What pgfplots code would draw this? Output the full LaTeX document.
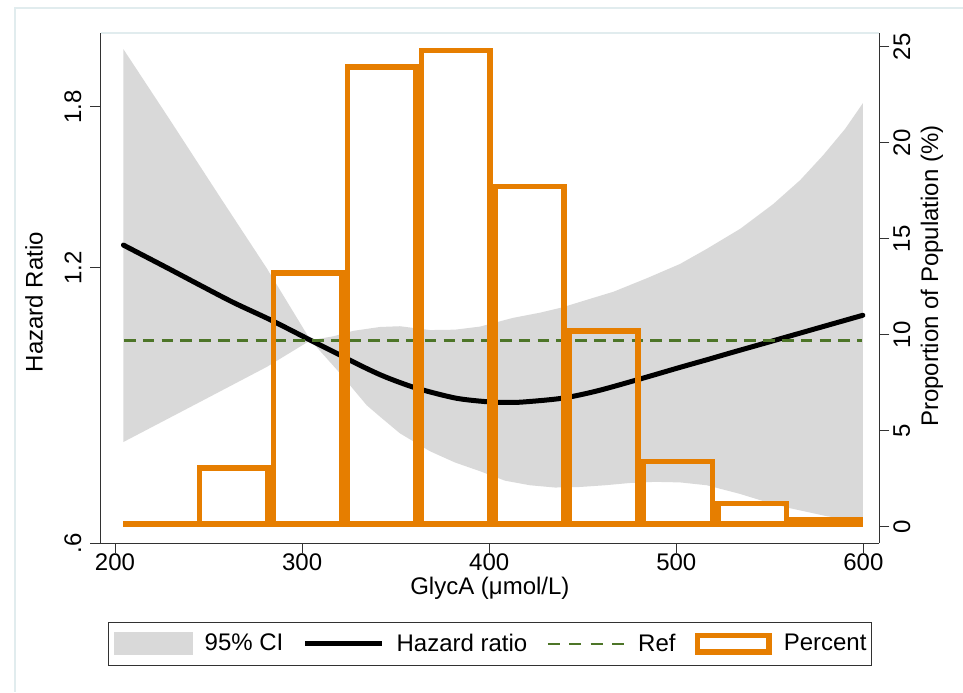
\documentclass[border=0pt]{standalone}
\usepackage{fontspec}
\setmainfont{Liberation Sans}
\usepackage{pgfplots}
\usepackage{pgfplotstable}
\pgfplotsset{compat=1.18}
\definecolor{cigray}{RGB}{217,217,217}
\definecolor{refgreen}{RGB}{77,117,40}
\definecolor{barorange}{RGB}{230,126,0}
\definecolor{axisgray}{RGB}{50,50,50}
\definecolor{framecol}{RGB}{225,236,238}

\pgfplotstableread{
x hr
204.5 1.271
227.6 1.201
245.4 1.149
263.2 1.100
283.4 1.052
304.5 1.000
317.0 0.971
330.0 0.941
341.6 0.917
352.3 0.899
363.0 0.884
382.6 0.864
400.4 0.856
410.0 0.855
418.3 0.856
438.8 0.864
457.5 0.880
480.6 0.907
502.0 0.934
516.3 0.952
530.0 0.970
548.3 0.994
573.3 1.028
599.7 1.065
}\hrtable

% 95% CI band: upper bound left to right, then lower bound right to left
\pgfplotstableread{
x hr
204.5 2.082
229.4 1.742
256.1 1.435
281.1 1.199
304.5 1.000
316.7 1.010
327.4 1.024
341.6 1.034
352.3 1.036
368.4 1.026
381.7 1.027
395.1 1.035
412.7 1.058
427.2 1.072
438.8 1.086
453.9 1.110
466.4 1.130
484.2 1.169
502.0 1.212
516.3 1.259
534.1 1.324
551.9 1.410
566.2 1.497
578.6 1.595
590.2 1.703
599.7 1.817
599.7 0.633
580.4 0.642
560.8 0.655
547.4 0.666
534.1 0.679
516.3 0.694
502.0 0.699
488.6 0.700
475.3 0.698
461.9 0.694
448.6 0.691
435.2 0.690
421.8 0.694
408.5 0.702
395.1 0.719
381.7 0.735
368.4 0.756
352.3 0.791
341.6 0.825
334.5 0.849
320.3 0.920
304.5 1.000
281.1 0.935
245.4 0.856
204.5 0.774
}\citable

\pgfplotstableread{
x pct
223.9 0.30
263.4 3.21
303.0 13.37
342.6 24.08
382.2 24.95
421.7 17.85
461.3 10.33
500.9 3.53
540.5 1.35
580.0 0.51
}\bartable

\begin{document}
\begin{tikzpicture}[font=\fontsize{12}{14}\selectfont]
\useasboundingbox (0,0) rectangle (481.5pt,346pt);
\draw[framecol, line width=1pt] (7.5pt,0pt) -- (7.5pt,342pt) -- (481.5pt,342pt);
\begin{axis}[
  name=main,
  at={(50.25pt,74.5pt)}, anchor=south west,
  scale only axis, width=389.4pt, height=255pt,
  xmin=192.25, xmax=608.5,
  ymode=log, ymin=0.6, ymax=2.1687,
  axis x line*=bottom, axis y line*=left,
  axis line style={draw=axisgray, line width=0.5pt, -},
  tick style={draw=axisgray, line width=0.5pt},
  tick align=outside, major tick length=5pt,
  xtick={200,300,400,500,600},
  ytick={0.6,1.2,1.8}, yticklabels={.6,1.2,1.8},
  minor tick num=0,
  /pgf/number format/assume math mode=true,
  xticklabel style={anchor=north, inner sep=0pt},
  yticklabel style={rotate=90, anchor=south, inner sep=0pt},
  yticklabel shift=4.4pt,
  xlabel={GlycA (μmol/L)},
  ylabel={Hazard Ratio},
  every axis x label/.style={at={(rel axis cs:0.5,0)}, yshift=-17pt, anchor=north, inner sep=0pt},
  every axis y label/.style={at={(rel axis cs:0,0.4725)}, xshift=-28.6pt, rotate=90, anchor=south, inner sep=0pt},
]
\addplot[fill=cigray, draw=none, forget plot] table[x=x, y=hr] {\citable} -- cycle;
\addplot[black, line width=2.5pt, smooth, line cap=round, forget plot] table[x=x, y=hr] {\hrtable};
\addplot[refgreen, line width=1.35pt, dash pattern=on 5.8pt off 3.6pt, forget plot] coordinates {(204.8,1) (599.1,1)};
\end{axis}
\draw[framecol, line width=0.6pt] (main.north west) -- (main.north east);
\begin{axis}[
  at={(50.25pt,74.5pt)}, anchor=south west,
  scale only axis, width=389.4pt, height=255pt,
  xmin=192.25, xmax=608.5,
  ymin=-0.849, ymax=25.714,
  axis x line=none, axis y line*=right,
  axis line style={draw=axisgray, line width=0.5pt, -},
  tick style={draw=axisgray, line width=0.5pt},
  tick align=outside, major tick length=5pt,
  ytick={0,5,10,15,20,25}, minor tick num=0,
  /pgf/number format/assume math mode=true,
  yticklabel style={rotate=90, anchor=north, inner sep=0pt},
  yticklabel shift=1.85pt,
  ylabel={Proportion of Population (\%)},
  every axis y label/.style={at={(rel axis cs:1,0.5235)}, xshift=20.5pt, rotate=90, anchor=north, inner sep=0pt},
  legend columns=4,
  legend cell align=left,
  legend style={at={(0.0095,-0.1543)}, anchor=north west, draw=axisgray, line width=0.6pt,
    inner xsep=2.5pt, inner ysep=5pt, font=\fontsize{12}{14}\selectfont,
    nodes={inner sep=0pt},
    /tikz/every odd column/.append style={column sep=6pt},
    /tikz/every even column/.append style={column sep=9.6pt}},
]
\addlegendimage{legend image code/.code={\fill[cigray] (0pt,-5.5pt) rectangle (39pt,5.5pt);}}
\addlegendentry{95\% CI}
\addlegendimage{legend image code/.code={\draw[black, line width=2.5pt] (0pt,0pt) -- (38.5pt,0pt);}}
\addlegendentry{Hazard ratio}
\addlegendimage{legend image code/.code={\draw[refgreen, line width=1.35pt, dash pattern=on 6pt off 4.7pt] (0pt,0pt) -- (38.5pt,0pt);}}
\addlegendentry{Ref}
\addlegendimage{legend image code/.code={\draw[barorange, line width=2.75pt] (1.375pt,-4.125pt) rectangle (37.125pt,4.125pt);}}
\addlegendentry{Percent}
\addplot[ybar, bar width=36.63, draw=barorange, fill=none, line width=2.75pt,
  yshift=1.375pt, y filter/.expression={y-0.2865}, forget plot] table[x=x, y=pct] {\bartable};
\end{axis}
\end{tikzpicture}
\end{document}
